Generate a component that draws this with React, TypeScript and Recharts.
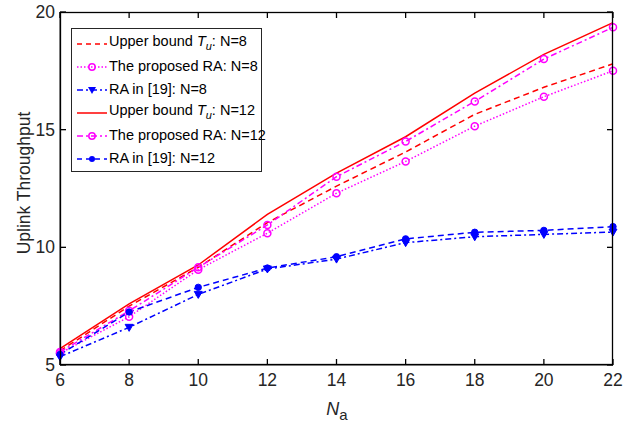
import React from "react";
import { LineChart, Line, XAxis, YAxis } from "recharts";

const xs = [6, 8, 10, 12, 14, 16, 18, 20, 22];
const ubN8 = [5.6, 7.5, 9.15, 11.05, 12.6, 14.05, 15.65, 16.8, 17.8];
const propN8 = [5.5, 7.05, 9.05, 10.6, 12.3, 13.65, 15.15, 16.4, 17.5];
const raN8 = [5.35, 6.6, 8.0, 9.08, 9.5, 10.2, 10.45, 10.55, 10.65];
const ubN12 = [5.7, 7.6, 9.25, 11.4, 13.15, 14.7, 16.55, 18.2, 19.55];
const propN12 = [5.55, 7.3, 9.15, 10.95, 13.0, 14.5, 16.2, 18.0, 19.35];
const raN12 = [5.45, 7.25, 8.3, 9.12, 9.6, 10.36, 10.64, 10.72, 10.88];
const xTicks = [6, 8, 10, 12, 14, 16, 18, 20, 22];
const yTicks = [5, 10, 15, 20];

const data = xs.map((x, i) => ({
  x,
  ubN8: ubN8[i],
  propN8: propN8[i],
  raN8: raN8[i],
  ubN12: ubN12[i],
  propN12: propN12[i],
  raN12: raN12[i],
}));

const RED = "#ff0000";
const MAG = "#ff00ff";
const BLUE = "#0000ff";
const AXIS = "#262626";
const FONT = "'Liberation Sans', Arial, sans-serif";
const W = 626;
const H = 432;
const M = { top: 12, right: 13, left: 0, bottom: 7 };
const Y_AXIS_W = 60;
const X_AXIS_H = 60;
const PLOT_LEFT = M.left + Y_AXIS_W;
const PLOT_TOP = M.top;
const PLOT_RIGHT = W - M.right;
const PLOT_BOTTOM = H - M.bottom - X_AXIS_H;

const XTick = (props: any) => {
  const { x, y, payload } = props;
  return (
    <g>
      <line x1={x} y1={y} x2={x} y2={y - 6} stroke="#000" strokeWidth={1.3} />
      <line x1={x} y1={PLOT_TOP} x2={x} y2={PLOT_TOP + 6} stroke="#000" strokeWidth={1.3} />
      <text x={x} y={y + 21} textAnchor="middle" fontFamily={FONT} fontSize={17.5} fill={AXIS}>
        {payload.value}
      </text>
    </g>
  );
};

const YTick = (props: any) => {
  const { x, y, payload } = props;
  return (
    <g>
      <line x1={x} y1={y} x2={x + 6} y2={y} stroke="#000" strokeWidth={1.3} />
      <line x1={PLOT_RIGHT} y1={y} x2={PLOT_RIGHT - 6} y2={y} stroke="#000" strokeWidth={1.3} />
      <text x={x - 5} y={y + 6} textAnchor="end" fontFamily={FONT} fontSize={17.5} fill={AXIS}>
        {payload.value}
      </text>
    </g>
  );
};

const OpenCircle = (props: any) => {
  const { cx, cy } = props;
  if (cx == null || cy == null) return null;
  return <circle cx={cx} cy={cy} r={3.5} fill="none" stroke={MAG} strokeWidth={1.5} />;
};

const TriDown = (props: any) => {
  const { cx, cy } = props;
  if (cx == null || cy == null) return null;
  return <path d={`M${cx - 4},${cy - 3}L${cx + 4},${cy - 3}L${cx},${cy + 4}Z`} fill={BLUE} stroke={BLUE} />;
};

const FilledDot = (props: any) => {
  const { cx, cy } = props;
  if (cx == null || cy == null) return null;
  return <circle cx={cx} cy={cy} r={3.2} fill={BLUE} stroke={BLUE} />;
};

const sub = (s: string) => <sub style={{ fontSize: 11, verticalAlign: "-4px" }}><i>{s}</i></sub>;

const legendRows = [
  { color: RED, dash: "5 4", marker: "none", label: <>Upper bound <i>T</i>{sub("u")}: N=8</> },
  { color: MAG, dash: "1.5 2", marker: "open", label: <>The proposed RA: N=8</> },
  { color: BLUE, dash: "6 3 2 3", marker: "tri", label: <>RA in [19]: N=8</> },
  { color: RED, dash: "", marker: "none", label: <>Upper bound <i>T</i>{sub("u")}: N=12</> },
  { color: MAG, dash: "6 3 2 3", marker: "open", label: <>The proposed RA: N=12</> },
  { color: BLUE, dash: "5 4", marker: "dot", label: <>RA in [19]: N=12</> },
];

const LegendBox = () => (
  <div
    style={{
      position: "absolute",
      left: 71,
      top: 28,
      width: 191,
      height: 144,
      boxSizing: "border-box",
      border: `1px solid ${AXIS}`,
      background: "#fff",
      padding: "3px 0 0 4px",
      fontFamily: FONT,
      fontSize: 14.5,
      color: "#000",
    }}
  >
    {legendRows.map((r, i) => (
      <div key={i} style={{ display: "flex", alignItems: "center", height: 23 }}>
        <svg width={32} height={12} style={{ flex: "none" }}>
          <line x1={1} y1={6} x2={31} y2={6} stroke={r.color} strokeWidth={1.5} strokeDasharray={r.dash || undefined} />
          {r.marker === "open" && <circle cx={16} cy={6} r={3.2} fill="none" stroke={MAG} strokeWidth={1.5} />}
          {r.marker === "tri" && <path d="M12,3L20,3L16,10Z" fill={BLUE} />}
          {r.marker === "dot" && <circle cx={16} cy={6} r={3} fill={BLUE} />}
        </svg>
        <span style={{ marginLeft: 1, whiteSpace: "nowrap", lineHeight: "15px" }}>{r.label}</span>
      </div>
    ))}
  </div>
);

export default function App() {
  return (
    <div style={{ position: "absolute", left: 0, top: 0, width: W, height: H, background: "#fff" }}>
      <LineChart width={W} height={H} data={data} margin={M}>
        <XAxis
          dataKey="x"
          type="number"
          domain={[6, 22]}
          ticks={xTicks}
          stroke={AXIS}
          tickLine={false}
          tickSize={0}
          tickMargin={0}
          tick={XTick}
          height={X_AXIS_H}
        />
        <YAxis
          type="number"
          domain={[5, 20]}
          ticks={yTicks}
          stroke={AXIS}
          tickLine={false}
          tickSize={0}
          tickMargin={0}
          tick={YTick}
          width={Y_AXIS_W}
        />
        <Line dataKey="ubN8" stroke={RED} strokeWidth={1.5} strokeDasharray="6 4" dot={false} isAnimationActive={false} />
        <Line dataKey="propN8" stroke={MAG} strokeWidth={1.5} strokeDasharray="1.5 2" dot={<OpenCircle />} isAnimationActive={false} />
        <Line dataKey="raN8" stroke={BLUE} strokeWidth={1.5} strokeDasharray="6 3 2 3" dot={<TriDown />} isAnimationActive={false} />
        <Line dataKey="ubN12" stroke={RED} strokeWidth={1.5} dot={false} isAnimationActive={false} />
        <Line dataKey="propN12" stroke={MAG} strokeWidth={1.5} strokeDasharray="6 3 2 3" dot={<OpenCircle />} isAnimationActive={false} />
        <Line dataKey="raN12" stroke={BLUE} strokeWidth={1.5} strokeDasharray="6 4" dot={<FilledDot />} isAnimationActive={false} />
        <text x={24} y={183} transform="rotate(-90 24 183)" textAnchor="middle" dominantBaseline="central" fontFamily={FONT} fontSize={17.5} fill={AXIS}>
          Uplink Throughput
        </text>
        <text x={337} y={415} textAnchor="middle" fontFamily={FONT} fontSize={18} fill={AXIS}>
          <tspan fontStyle="italic">N</tspan>
          <tspan fontSize={15} dy={5}>a</tspan>
        </text>
      </LineChart>
      <svg
        width={W}
        height={H}
        style={{ position: "absolute", left: 0, top: 0, pointerEvents: "none" }}
      >
        <rect
          x={PLOT_LEFT + 0.5}
          y={PLOT_TOP + 0.5}
          width={PLOT_RIGHT - PLOT_LEFT - 1}
          height={PLOT_BOTTOM - PLOT_TOP - 1}
          fill="none"
          stroke="#000"
          strokeWidth={1.3}
        />
      </svg>
      <LegendBox />
    </div>
  );
}
